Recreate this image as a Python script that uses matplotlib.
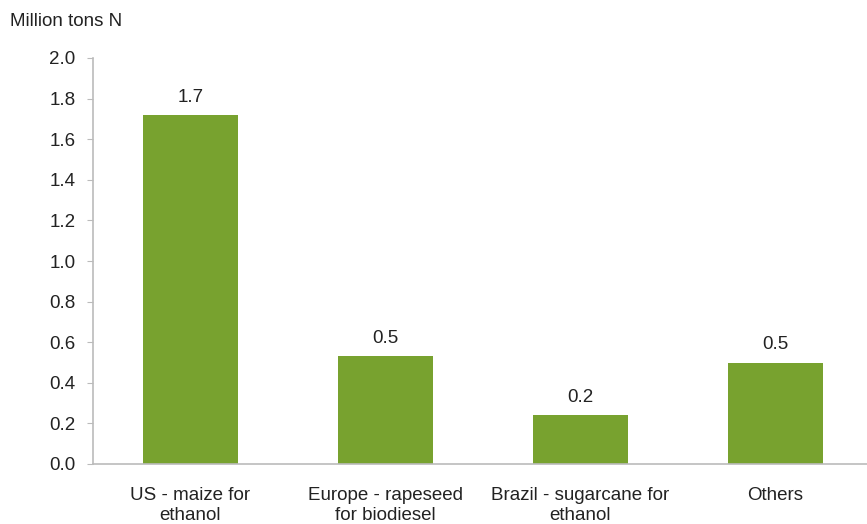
import matplotlib
matplotlib.use("Agg")
import matplotlib.pyplot as plt

# data
categories = ["US - maize for\nethanol", "Europe - rapeseed\nfor biodiesel",
              "Brazil - sugarcane for\nethanol", "Others"]
values = [1.72, 0.53, 0.24, 0.50]
value_labels = ["1.7", "0.5", "0.2", "0.5"]
yticks = [0.0, 0.2, 0.4, 0.6, 0.8, 1.0, 1.2, 1.4, 1.6, 1.8, 2.0]

plt.rcParams['font.family'] = ['Liberation Sans', 'DejaVu Sans']
FS = 13.5

fig = plt.figure(figsize=(8.67, 5.24), dpi=100)
W, H = 867, 524
ax = fig.add_axes([93 / W, (H - 464) / H, 780 / W, (464 - 58) / H])

x = range(len(categories))
ax.bar(x, values, width=0.49, color='#78A22F')
for xi, v, lab in zip(x, values, value_labels):
    ax.text(xi, v + 0.045, lab, ha='center', va='bottom', fontsize=FS, color='#222222')

ax.set_xlim(-0.5, 3.5)
ax.set_ylim(0, 2.0)
ax.set_yticks(yticks)
ax.set_yticklabels(["{:.1f}".format(t) for t in yticks])
ax.set_xticks(list(x))
ax.set_xticklabels(categories, linespacing=1.25)

for s in ['top', 'right']:
    ax.spines[s].set_visible(False)
for s in ['left', 'bottom']:
    ax.spines[s].set_color('#bbbbbb')
    ax.spines[s].set_linewidth(1.2)

ax.tick_params(axis='y', colors='#bbbbbb', labelcolor='#222222', labelsize=FS,
               length=4, pad=8.5)
ax.tick_params(axis='x', length=0, labelsize=FS, labelcolor='#222222', pad=16.5)

fig.text(10 / W, 1 - 21 / H, "Million tons N", fontsize=FS, color='#222222',
         ha='left', va='center')

fig.savefig("out.png", dpi=100)
